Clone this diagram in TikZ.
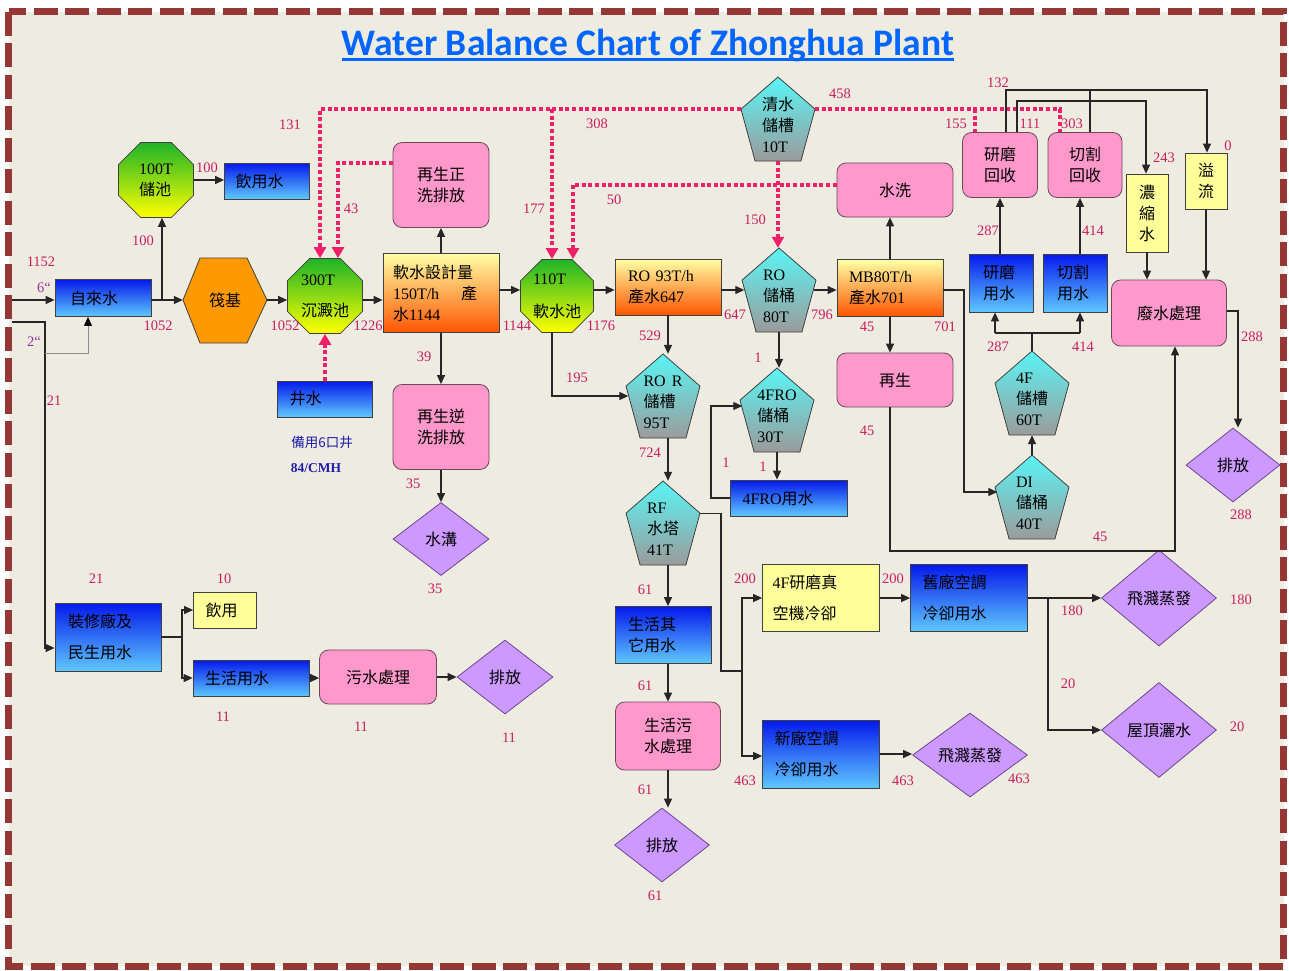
\documentclass[tikz,border=0pt]{standalone}
\usepackage{fontspec}
\setmainfont{Liberation Serif}
\newfontfamily\cjk{Noto Sans CJK TC}
\newfontfamily\titlefont{Carlito}
\usetikzlibrary{arrows.meta,shapes.geometric,calc}

\definecolor{bg}{RGB}{238,235,225}
\definecolor{frame}{RGB}{149,55,53}
\definecolor{titleblue}{RGB}{0,102,255}
\definecolor{lblc}{RGB}{200,30,95}
\definecolor{inchc}{RGB}{150,50,160}
\definecolor{dotc}{RGB}{238,32,106}
\definecolor{bluetop}{RGB}{5,25,235}
\definecolor{bluebot}{RGB}{95,200,255}
\definecolor{orgtop}{RGB}{255,255,165}
\definecolor{orgbot}{RGB}{255,85,0}
\definecolor{octtop}{RGB}{30,180,40}
\definecolor{octbot}{RGB}{255,255,0}
\definecolor{pentop}{RGB}{90,245,245}
\definecolor{penbot}{RGB}{155,155,155}
\definecolor{pinkfill}{RGB}{255,153,204}
\definecolor{pinkline}{RGB}{110,70,90}
\definecolor{yelfill}{RGB}{255,255,153}
\definecolor{diafill}{RGB}{204,153,255}
\definecolor{dialine}{RGB}{110,70,150}
\definecolor{hexfill}{RGB}{255,153,0}
\definecolor{noteblue}{RGB}{30,30,170}

\newcommand\zh[1]{{\cjk #1}}

% pentagon tank: name, cx, cy, text
\newcommand\pentnode[4]{%
  \path[draw=black!75, line width=0.8pt, top color=pentop, bottom color=penbot]
    (#2,#3-42) -- (#2+37,#3-9.9) -- (#2+22.9,#3+42) -- (#2-22.9,#3+42) -- (#2-37,#3-9.9) -- cycle;
  \coordinate (#1-l) at (#2-37,#3-9.9);
  \coordinate (#1-r) at (#2+37,#3-9.9);
  \node[minimum width=69pt, minimum height=84pt, inner sep=0pt] (#1) at (#2,#3) {};
  \node[shapetext] (#1-t) at (#2,#3+6) {#4};
}

\tikzset{
  base/.style={font=\fontsize{16}{21}\selectfont, inner sep=0pt, text=black},
  shapetext/.style={base, rectangle, align=left},
  bluebox/.style={base, rectangle, draw=black!75, line width=0.8pt, top color=bluetop, bottom color=bluebot, align=left},
  yelbox/.style={base, rectangle, draw=black!75, line width=0.8pt, fill=yelfill, align=left},
  orgbox/.style={base, rectangle, draw=black!75, line width=0.8pt, top color=orgtop, bottom color=orgbot, align=left},
  pinkbox/.style={base, rectangle, rounded corners=9pt, draw=pinkline, line width=0.8pt, fill=pinkfill, align=center},
  octa/.style={base, regular polygon, regular polygon sides=8, minimum size=81pt, draw=black!75, line width=0.8pt, top color=octtop, bottom color=octbot, align=left},
  dia/.style={base, diamond, draw=dialine, line width=0.8pt, fill=diafill, align=center},
  wide/.style={font=\fontsize{16}{31}\selectfont},
  lbl/.style={font=\fontsize{14.5}{14.5}\selectfont, text=lblc, inner sep=0pt},
  note/.style={font=\fontsize{13.5}{13.5}\selectfont, text=noteblue, inner sep=0pt},
  arr/.style={draw=black!85, line width=1.2pt, -{Triangle[length=9pt,width=8pt]}},
  ln/.style={draw=black!85, line width=1.2pt},
  grayarr/.style={draw=black!45, line width=0.9pt, -{Triangle[length=9pt,width=8pt,color=black]}},
  dotln/.style={draw=dotc, line width=4pt, dash pattern=on 4pt off 2.6pt},
  dotarr/.style={dotln, -{Triangle[length=11pt,width=12pt]}},
}

\begin{document}
\begin{tikzpicture}[x=1pt,y=-1pt]
\useasboundingbox (0,0) rectangle (1289,970);
\fill[white] (0,0) rectangle (1289,970);
\fill[bg] (8.5,11.5) rectangle (1283.5,966);

% title
\node[anchor=base, inner sep=0pt, font=\titlefont\bfseries\fontsize{37.5}{37.5}\selectfont, text=titleblue] (title) at (648,55) {Water Balance Chart of Zhonghua Plant};
\draw[titleblue, line width=2.6pt] ([yshift=-4.5pt]title.base west) -- ([yshift=-4.5pt]title.base east);

% flow levels
\coordinate (yL) at (0,300);
\coordinate (yR) at (0,290);

% ---------- nodes ----------
\node[octa] (n100T) at (156,180) {100T\\\zh{儲池}};
\node[bluebox, minimum width=85pt, minimum height=36pt, text width=63pt] (drink1) at (267,181) {\zh{飲用水}};
\node[bluebox, minimum width=96pt, minimum height=37pt, text width=66pt] (tap) at (103,298) {\zh{自來水}};

\path[draw=black!75, line width=0.8pt, fill=hexfill] (183,300) -- (200,258) -- (247,258) -- (267,300) -- (247,343) -- (200,343) -- cycle;
\node[shapetext, minimum width=84pt, minimum height=85pt, align=center] (raft) at (225,300) {\zh{筏基}};

\node[octa, wide] (n300T) at (325,296) {300T\\\zh{沉澱池}};
\node[orgbox, minimum width=116pt, minimum height=79pt, text width=96pt] (soft) at (441,293) {\zh{軟水設計量}\\150T/h\hspace{22pt}\zh{產}\\\zh{水}1144};
\node[pinkbox, minimum width=96pt, minimum height=85pt] (regen1) at (441,185) {\zh{再生正}\\\zh{洗排放}};
\node[octa, wide, font=\fontsize{16}{33}\selectfont, minimum size=79pt] (n110T) at (557,296) {110T\\\zh{軟水池}};
\node[orgbox, minimum width=106pt, minimum height=56pt, text width=80pt] (ro93) at (668,287) {RO 93T/h\\\zh{產水}647};
\pentnode{rotank}{779}{290}{RO\\\zh{儲桶}\\80T}
\pentnode{cleantank}{778}{119}{\zh{清水}\\\zh{儲槽}\\10T}
\node[orgbox, minimum width=106pt, minimum height=57pt, text width=82pt] (mb80) at (890,288) {MB80T/h\\\zh{產水}701};
\node[pinkbox, minimum width=116pt, minimum height=54pt] (wash) at (895,190) {\zh{水洗}};
\node[pinkbox, minimum width=75pt, minimum height=65pt] (grindrec) at (1000,165) {\zh{研磨}\\\zh{回收}};
\node[pinkbox, minimum width=74pt, minimum height=65pt] (cutrec) at (1085,165) {\zh{切割}\\\zh{回收}};
\node[yelbox, minimum width=42pt, minimum height=78pt] (conc) at (1147,213) {\zh{濃}\\\zh{縮}\\\zh{水}};
\node[yelbox, minimum width=42pt, minimum height=56pt] (overflow) at (1206,181) {\zh{溢}\\\zh{流}};
\node[bluebox, minimum width=64pt, minimum height=58pt, text width=36pt] (grinduse) at (1001,283) {\zh{研磨}\\\zh{用水}};
\node[bluebox, minimum width=64pt, minimum height=58pt, text width=36pt] (cutuse) at (1075,283) {\zh{切割}\\\zh{用水}};
\node[pinkbox, minimum width=115pt, minimum height=66pt] (waste) at (1169,313) {\zh{廢水處理}};
\node[pinkbox, minimum width=116pt, minimum height=54pt] (regen2) at (895,380) {\zh{再生}};
\pentnode{tank4F}{1032}{393}{4F\\\zh{儲槽}\\60T}
\pentnode{tankDI}{1032}{497}{DI\\\zh{儲桶}\\40T}
\node[dia, minimum width=94pt, minimum height=74pt] (dis1) at (1233,465) {\zh{排放}};

\node[bluebox, minimum width=95pt, minimum height=36pt, text width=71pt] (well) at (325,399) {\zh{井水}};
\node[note] (note1) at (322,442) {\cjk 備用6口井};
\node[note, font=\bfseries\fontsize{13.5}{13.5}\selectfont] (note2) at (316,468) {84/CMH};
\node[pinkbox, minimum width=96pt, minimum height=85pt] (regen3) at (441,427) {\zh{再生逆}\\\zh{洗排放}};
\node[dia, minimum width=96pt, minimum height=73pt] (ditch) at (441,539) {\zh{水溝}};

\pentnode{rortank}{663}{396}{RO\hspace{6pt}R\\\zh{儲槽}\\95T}
\pentnode{fro}{777}{410}{4FRO\\\zh{儲桶}\\30T}
\node[bluebox, minimum width=117pt, minimum height=36pt, text width=93pt] (frouse) at (789,498) {4FRO\zh{用水}};
\pentnode{rf}{663}{523}{RF\\\zh{水塔}\\41T}
\node[bluebox, minimum width=96pt, minimum height=57pt, text width=70pt] (lifeother) at (663,635) {\zh{生活其}\\\zh{它用水}};
\node[pinkbox, minimum width=105pt, minimum height=68pt] (sewage2) at (668,736) {\zh{生活污}\\\zh{水處理}};
\node[dia, minimum width=95pt, minimum height=74pt] (dis3) at (662,845) {\zh{排放}};

\node[yelbox, wide, minimum width=117pt, minimum height=67pt, text width=97pt] (grindcool) at (821,598) {4F\zh{研磨真}\\\zh{空機冷卻}};
\node[bluebox, wide, minimum width=117pt, minimum height=67pt, text width=93pt] (oldac) at (969,598) {\zh{舊廠空調}\\\zh{冷卻用水}};
\node[dia, minimum width=115pt, minimum height=96pt] (splash1) at (1159,598) {\zh{飛濺蒸發}};
\node[dia, minimum width=115pt, minimum height=95pt] (roof) at (1159,730) {\zh{屋頂灑水}};
\node[bluebox, wide, minimum width=117pt, minimum height=68pt, text width=93pt] (newac) at (821,754) {\zh{新廠空調}\\\zh{冷卻用水}};
\node[dia, minimum width=115pt, minimum height=84pt] (splash2) at (970,755) {\zh{飛濺蒸發}};

\node[bluebox, wide, minimum width=106pt, minimum height=68pt, text width=80pt] (civil) at (108,637) {\zh{裝修廠及}\\\zh{民生用水}};
\node[yelbox, minimum width=63pt, minimum height=36pt, text width=39pt] (drink2) at (225,610) {\zh{飲用}};
\node[bluebox, minimum width=116pt, minimum height=36pt, text width=92pt] (lifeuse) at (251,678) {\zh{生活用水}};
\node[pinkbox, minimum width=117pt, minimum height=54pt] (sewage1) at (378,677) {\zh{污水處理}};
\node[dia, minimum width=96pt, minimum height=74pt] (dis2) at (505,677) {\zh{排放}};

% ---------- reclaimed water (dotted) ----------
\draw[dotarr] (cleantank-l) -| ([xshift=-5pt]n300T.north);
\coordinate (d1) at (552,109.1);
\draw[dotarr] (d1) -- (d1 |- n110T.north);
\draw[dotarr] ([yshift=22pt]regen1.west) -| ([xshift=13pt]n300T.north);
\draw[dotarr] ([yshift=5pt]wash.west) -| ([xshift=16pt]n110T.north);
\draw[dotarr] (cleantank.south) -- (cleantank.south |- rotank.north);
\draw[dotarr] (well.north) -- (well.north |- n300T.south);
\draw[dotln] (cleantank-r) -| ([xshift=12pt]cutrec.north west);
\coordinate (d2) at (975,109.1);
\draw[dotln] (d2) -- (d2 |- grindrec.north);

% ---------- main supply line ----------
\coordinate (in1) at (12,300);
\draw[arr] (in1) -- (tap.west |- yL);
\draw[arr] (tap.east |- yL) -- (raft.west |- yL);
\coordinate (j1) at (162,300);
\draw[arr] (j1) -- (j1 |- n100T.south);
\draw[arr] (n100T.east) -- (n100T.east -| drink1.west);
\draw[arr] (raft.east |- yL) -- (n300T.west |- yL);
\draw[arr] (n300T.east |- yL) -- (soft.west |- yL);
\draw[arr] (soft.east |- yR) -- (n110T.west |- yR);
\draw[arr] (n110T.east |- yR) -- (ro93.west |- yR);
\draw[arr] (ro93.east |- yR) -- (rotank.west |- yR);
\draw[arr] (rotank.east |- yR) -- (mb80.west |- yR);

% 6" and 2" feeds
\coordinate (in2) at (12,322);
\coordinate (j2) at (45,322);
\draw[arr] (in2) -- (j2) |- ([yshift=-11pt]civil.west);
\coordinate (j3) at (45,353);
\draw[grayarr] (j3) -| ([xshift=-15pt]tap.south);

% softener branches
\draw[arr] (soft.north) -- (regen1.south);
\draw[arr] (soft.south) -- (regen3.north);
\draw[arr] (regen3.south) -- (ditch.north);

% RO branches
\coordinate (k2) at (552,396);
\draw[arr] (k2 |- n110T.south) -- (k2) -- (k2 -| rortank.west);
\draw[arr] (ro93.south) -- (ro93.south |- rortank.north);
\draw[arr] (rortank.south -| ro93.south) -- (rf.north -| ro93.south);
\draw[arr] (rf.south -| ro93.south) -- (lifeother.north -| ro93.south);
\draw[arr] (lifeother.south -| ro93.south) -- (sewage2.north);
\draw[arr] (sewage2.south) -- (sewage2.south |- dis3.north);
\draw[arr] (rotank.south) -- (rotank.south |- fro.north);
\draw[arr] (fro.south) -- (fro.south |- frouse.north);
\coordinate (k1) at (711,406);
\draw[arr] (frouse.west) -| (k1) -- (k1 -| fro.west);

% cooling water
\coordinate (k3) at (721,671);
\coordinate (k4) at (742,671);
\draw[ln] (rf-r) -| (k3) -- (k4);
\draw[arr] (k4) |- (grindcool.west);
\draw[arr] (k4) |- ([yshift=-2pt]newac.west);
\draw[arr] (grindcool.east) -- (oldac.west);
\coordinate (k5) at (1048,598);
\draw[arr] (oldac.east) -- (oldac.east -| splash1.west);
\draw[arr] (k5) |- (roof.west);
\draw[arr] (newac.east) -- (newac.east -| splash2.west);

% mixed bed
\draw[arr] (mb80.north) -- (mb80.north |- wash.south);
\draw[arr] (mb80.south) -- (mb80.south |- regen2.north);
\coordinate (k6) at (964,492);
\draw[arr] (mb80.east |- yR) -| (k6) -- (k6 -| tankDI.west);
\coordinate (k7) at (890,551);
\coordinate (k8) at (1175,551);
\draw[arr] (k7 |- regen2.south) -- (k7) -- (k8) -- (k8 |- waste.south);

% 4F tanks and process water
\draw[arr] (tankDI.north) -- (tank4F.south);
\coordinate (k9) at (995,333);
\coordinate (k10) at (1080,333);
\draw[ln] (tank4F.north) -- (tank4F.north |- k9);
\draw[ln] (k9) -- (k10);
\draw[arr] (k9) -- (k9 |- grinduse.south);
\draw[arr] (k10) -- (k10 |- cutuse.south);
\draw[arr] (grindrec.south |- grinduse.north) -- (grindrec.south);
\draw[arr] (k10 |- cutuse.north) -- (k10 |- cutrec.south);

% recovery returns
\coordinate (t1) at (1006,90);
\coordinate (t2) at (1207,90);
\coordinate (t3) at (1090,90);
\coordinate (t4) at (1017,101);
\coordinate (t5) at (1146,101);
\draw[arr] (t1 |- grindrec.north) -- (t1) -- (t2) -- (t2 |- overflow.north);
\draw[ln] (t3 |- cutrec.north) -- (t3);
\draw[arr] (t4 |- grindrec.north) -- (t4) -- (t5) -- (t5 |- conc.north);
\draw[arr] (conc.south) -- (conc.south |- waste.north);
\draw[arr] (overflow.south) -- (overflow.south |- waste.north);
\coordinate (k12) at (1238,311);
\draw[arr] (waste.east |- k12) -- (k12) -- (k12 |- dis1.north);

% domestic use
\coordinate (k13) at (182,637);
\draw[ln] (civil.east) -- (k13);
\draw[arr] (k13) |- (drink2.west);
\draw[arr] (k13) |- (lifeuse.west);
\draw[arr] (lifeuse.east) -- (lifeuse.east -| sewage1.west);
\draw[arr] (sewage1.east) -- (dis2.west);

% ---------- flow figures ----------
\foreach \t/\x/\y [count=\i] in {1152/41/262, 1052/158/326, 100/143/241, 100/207/168, 1052/285/326,
  1226/368/326, 131/290/125, 43/351/209, 308/597/124, 177/534/209, 50/614/200, 150/755/220,
  1144/517/326, 1176/601/326, 529/650/336, 39/424/357, 647/735/315, 796/822/315, 1/758/358,
  195/577/378, 458/840/94, 132/998/83, 155/956/124, 111/1030/124, 303/1072/124, 243/1164/158,
  0/1228/146, 287/988/231, 414/1093/231, 45/867/327, 701/945/327, 287/998/347, 414/1083/347,
  288/1252/337, 724/650/453, 1/726/463, 1/763/467, 45/867/431, 61/645/590, 200/745/579,
  200/893/579, 288/1241/515, 45/1100/537, 180/1072/611, 180/1241/600, 20/1068/684, 20/1237/727,
  463/745/781, 463/903/781, 463/1019/779, 61/645/686, 61/645/790, 61/655/896, 21/54/401,
  21/96/579, 10/224/579, 11/223/717, 11/361/727, 11/509/738, 35/413/484, 35/435/589}
  \node[lbl] (lab\i) at (\x,\y) {\t};
\node[lbl, text=inchc] (inch6) at (44,288) {6“};
\node[lbl, text=inchc] (inch2) at (34,342) {2“};

% dashed frame
\draw[frame, line width=7pt, dash pattern=on 24pt off 7.5pt] (8.5,11.5) rectangle (1283.5,966);
\end{tikzpicture}
\end{document}
